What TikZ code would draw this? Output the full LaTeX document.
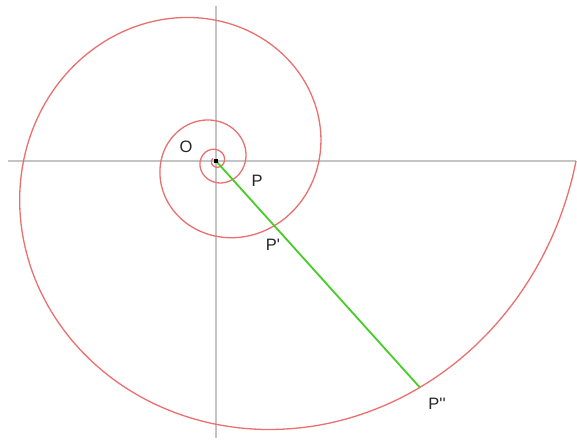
\documentclass[tikz,border=0pt]{standalone}
\usepackage{fontspec}
\newfontfamily\lab{Liberation Sans}[Ligatures=TeXOff]
\definecolor{spiralred}{RGB}{234,112,112}
\definecolor{axisgray}{RGB}{196,196,196}
\definecolor{raygreen}{RGB}{70,205,40}
\tikzset{
  axisline/.style={draw=axisgray, line width=1.7pt},
  spiralline/.style={draw=spiralred, line width=1.3pt, line join=round},
  rayline/.style={draw=raygreen, line width=1.8pt},
  lbl/.style={font=\lab\fontsize{16.5}{18}\selectfont, inner sep=0pt, text=black!85}
}
\begin{document}
\begin{tikzpicture}[x=1pt,y=-1pt]
\useasboundingbox[fill=white] (0,0) rectangle (577,439);
% axes
\coordinate (xl) at (8,161);
\coordinate (xr) at (576,161);
\coordinate (yt) at (216,6);
\coordinate (yb) at (216,438);
\draw[axisline] (xl) -- (xr);
\draw[axisline] (yt) -- (yb);
% logarithmic spiral r = 360 e^{0.1994 theta}
\draw[spiralline] plot[domain=-1300:0, samples=700, variable=\t]
  ({216+360*exp(0.0034802*\t)*cos(\t)}, {161-360*exp(0.0034802*\t)*sin(\t)});
% ray
\coordinate (Pdd) at (419.8,387.4);
\node[fill=black, minimum size=4pt, inner sep=0pt] (O) at (216,161) {};
\draw[rayline] (O.center) -- (Pdd);
\node[fill=black, minimum size=4pt, inner sep=0pt] at (O) {};
% labels
\node[lbl] (lO) at (186,147) {O};
\node[lbl] (lP) at (257,181) {P};
\node[lbl] (lP1) at (273,245) {P'};
\node[lbl] (lP2) at (437,404) {P''};
\end{tikzpicture}
\end{document}
